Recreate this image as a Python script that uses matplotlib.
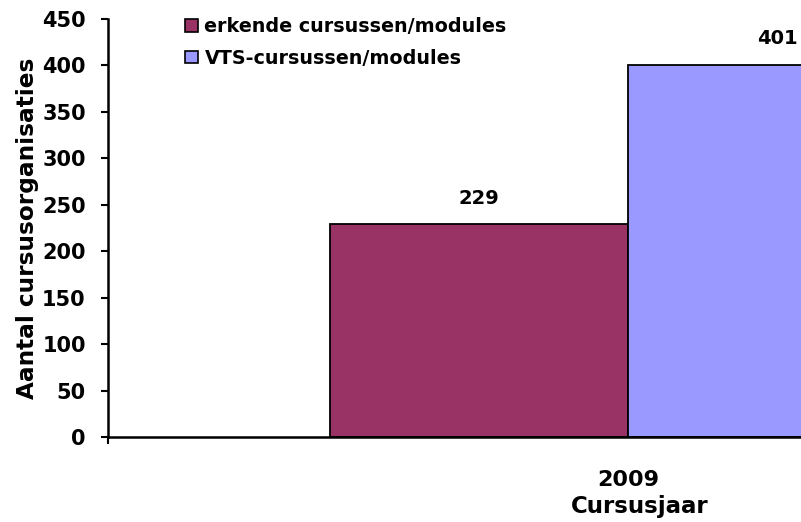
import matplotlib
matplotlib.use("Agg")
import matplotlib.pyplot as plt
from matplotlib.patches import Patch

categories = ["2009"]
series_names = ["erkende cursussen/modules", "VTS-cursussen/modules"]
series_values = [[229], [401]]
colors = ["#993366", "#9999FF"]
yticks = [0, 50, 100, 150, 200, 250, 300, 350, 400, 450]

W, H = 801, 522
fig = plt.figure(figsize=(W / 100, H / 100), dpi=100)
# plot area extends past the right edge of the picture (chart is cropped)
ax = fig.add_axes([108 / W, 85 / H, 1040 / W, 418 / H])

font = "DejaVu Sans"
bw = 0.2865
for i, (name, vals) in enumerate(zip(series_names, series_values)):
    off = (i - 0.5) * bw
    xs = [j + off for j in range(len(categories))]
    ax.bar(xs, vals, width=bw, color=colors[i], edgecolor="black",
           linewidth=1.3, label=name, zorder=2)
    for x, v in zip(xs, vals):
        ax.annotate(str(v), (x, v), xytext=(0, 12), textcoords="offset points",
                    ha="center", va="bottom", fontsize=14, fontweight="bold",
                    family=font)

ax.set_xlim(-0.5, len(categories) - 0.5)
ax.set_ylim(0, 450)
ax.set_yticks(yticks)
ax.set_yticklabels([str(t) for t in yticks], fontsize=15, fontweight="bold", family=font)
ax.set_xticks(range(len(categories)))
ax.set_xticklabels(categories, fontsize=16, fontweight="bold", family=font)
ax.set_xticks([-0.5 + k for k in range(len(categories) + 1)], minor=True)
ax.tick_params(axis="x", which="major", length=0, pad=24)
ax.tick_params(axis="x", which="minor", length=5, width=1.5, direction="out")
ax.tick_params(axis="y", length=5, width=1.5, direction="out", pad=11)

for s in ["top", "right"]:
    ax.spines[s].set_visible(False)
for s in ["left", "bottom"]:
    ax.spines[s].set_linewidth(1.8)

ax.set_ylabel("Aantal cursusorganisaties", fontsize=16.7, fontweight="bold",
              family=font, labelpad=2)
fig.text(640 / W, 1 - 507 / H, "Cursusjaar", ha="center", va="center",
         fontsize=16.5, fontweight="bold", family=font)

handles = [Patch(facecolor=c, edgecolor="black", linewidth=1.2) for c in colors]
fig.legend(handles, series_names, loc="upper left", bbox_to_anchor=(168 / W, 1 - 0 / H),
           frameon=False, handlelength=0.65, handleheight=0.65,
           handletextpad=0.35, labelspacing=0.65,
           prop={"family": font, "size": 13.8, "weight": "bold"})

fig.savefig("out.png", dpi=100)
